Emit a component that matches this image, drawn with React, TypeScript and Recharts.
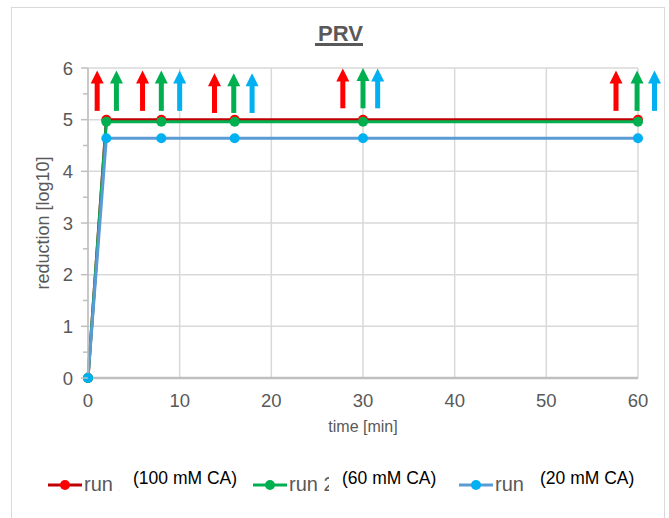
import { CartesianGrid, Line, LineChart, ReferenceLine, XAxis, YAxis } from 'recharts';

const TIME_MIN = [0, 2, 8, 16, 30, 60];
const RUN1 = [0, 5.0, 5.0, 5.0, 5.0, 5.0];
const RUN2 = [0, 4.96, 4.96, 4.96, 4.96, 4.96];
const RUN3 = [0, 4.64, 4.64, 4.64, 4.64, 4.64];

const X_TICKS = [0, 10, 20, 30, 40, 50, 60];
const Y_TICKS = [0, 0.5, 1, 1.5, 2, 2.5, 3, 3.5, 4, 4.5, 5, 5.5, 6];
const Y_GRID = [1, 2, 3, 4, 5, 6];

// sampling arrows: x position, arrow base, arrow tip (log10 units)
const ARROWS_RED = [
  { x: 1.0, from: 5.17, to: 5.95 },
  { x: 5.95, from: 5.17, to: 5.95 },
  { x: 13.8, from: 5.13, to: 5.9 },
  { x: 27.8, from: 5.22, to: 5.99 },
  { x: 57.6, from: 5.17, to: 5.95 },
];
const ARROWS_GREEN = [
  { x: 3.1, from: 5.17, to: 5.95 },
  { x: 8.0, from: 5.17, to: 5.95 },
  { x: 15.9, from: 5.13, to: 5.9 },
  { x: 30.0, from: 5.22, to: 6.0 },
  { x: 59.9, from: 5.17, to: 5.95 },
];
const ARROWS_BLUE = [
  { x: 10.0, from: 5.17, to: 5.95 },
  { x: 17.9, from: 5.13, to: 5.9 },
  { x: 31.6, from: 5.22, to: 5.99 },
  { x: 61.8, from: 5.17, to: 5.95 },
];

const SERIES = [
  { key: 'run1', name: 'run 1', note: '(100 mM CA)', line: '#C00000', dot: '#FF0000' },
  { key: 'run2', name: 'run 2', note: '(60 mM CA)', line: '#00B050', dot: '#00B050' },
  { key: 'run3', name: 'run 3', note: '(20 mM CA)', line: '#5B9BD5', dot: '#00B0F0' },
];

const data = TIME_MIN.map((t, i) => ({ t, run1: RUN1[i], run2: RUN2[i], run3: RUN3[i] }));

const FONT = '"Liberation Sans", Arial, sans-serif';
const GRAY = '#595959';

function YTick(props: any) {
  const { x, y, payload } = props;
  const v = payload.value as number;
  const major = Number.isInteger(v);
  return (
    <g>
      <line x1={x - (major ? 7 : 5)} x2={x} y1={y} y2={y} stroke="#bfbfbf" strokeWidth={1.5} />
      {major && (
        <text x={x - 15} y={y} dy="0.355em" textAnchor="end" fill={GRAY} fontSize={18.5} fontFamily={FONT}>
          {v}
        </text>
      )}
    </g>
  );
}

function Arrow(props: any) {
  const { x1, y1, y2, color } = props;
  const top = Math.min(y1, y2);
  const bottom = Math.max(y1, y2);
  const head = 13;
  return (
    <g>
      <rect x={x1 - 2.5} y={top + head - 1} width={5} height={bottom - top - head + 1} fill={color} />
      <polygon points={`${x1 - 6.5},${top + head} ${x1 + 6.5},${top + head} ${x1},${top}`} fill={color} />
    </g>
  );
}

const arrowGroups = [
  { list: ARROWS_RED, color: '#FF0000' },
  { list: ARROWS_GREEN, color: '#00B050' },
  { list: ARROWS_BLUE, color: '#00B0F0' },
];

// legend layout (pixels in the 669x518 frame)
const LEGEND_X = [48, 253, 459];
const DIGIT_CUT = [120, 329, 528];
const NOTE_X = [133, 342, 540];

export default function App() {
  return (
    <div style={{ position: 'absolute', left: 0, top: 0, width: 669, height: 518, background: '#fff', overflow: 'hidden' }}>
      <LineChart
        width={669}
        height={518}
        data={data}
        margin={{ top: 68, right: 31, left: 28, bottom: 80 }}
        style={{ fontFamily: FONT }}
      >
        <CartesianGrid horizontal={false} stroke="#d9d9d9" strokeWidth={1.5} />
        {Y_GRID.map((v) => (
          <ReferenceLine key={v} y={v} stroke="#d9d9d9" strokeWidth={1.5} />
        ))}
        <XAxis
          dataKey="t"
          type="number"
          domain={[0, 60]}
          ticks={X_TICKS}
          tickLine={false}
          tickSize={0}
          tickMargin={16}
          height={60}
          axisLine={{ stroke: '#bfbfbf', strokeWidth: 2.5 }}
          tick={{ fill: GRAY, fontSize: 18.5, fontFamily: FONT }}
          label={{ value: 'time [min]', position: 'insideBottom', offset: 6, fill: GRAY, fontSize: 16, fontFamily: FONT }}
        />
        <YAxis
          type="number"
          domain={[0, 6]}
          ticks={Y_TICKS}
          interval={0}
          width={60}
          tickLine={false}
          tickSize={0}
          tickMargin={0}
          axisLine={{ stroke: '#bfbfbf', strokeWidth: 1.5 }}
          tick={<YTick />}
          label={{
            value: 'reduction [log10]',
            angle: -90,
            position: 'insideLeft',
            offset: 15,
            fill: GRAY,
            fontSize: 18,
            fontFamily: FONT,
            style: { textAnchor: 'middle' },
          }}
        />
        {SERIES.map((s) => (
          <Line
            key={s.key}
            type="linear"
            dataKey={s.key}
            name={s.name}
            stroke={s.line}
            strokeWidth={3}
            dot={{ r: 5, fill: s.dot, stroke: s.dot, strokeWidth: 0 }}
            isAnimationActive={false}
          />
        ))}
        {arrowGroups.map((g) =>
          g.list.map((a, i) => (
            <ReferenceLine
              key={`${g.color}-${i}`}
              segment={[
                { x: a.x, y: a.from },
                { x: a.x, y: a.to },
              ]}
              ifOverflow="visible"
              stroke={g.color}
              shape={(p: any) => <Arrow {...p} color={g.color} />}
            />
          ))
        )}
      </LineChart>
      <svg
        width={669}
        height={518}
        style={{ position: 'absolute', left: 0, top: 0, pointerEvents: 'none', fontFamily: FONT }}
      >
        <rect x={11.5} y={7.5} width={653} height={530} fill="none" stroke="#d9d9d9" strokeWidth={1} />
        <text x={340.5} y={41} textAnchor="middle" fontSize={22} fontWeight="bold" fill={GRAY}>
          PRV
        </text>
        <rect x={315} y={43} width={48} height={3} fill={GRAY} />
        {SERIES.map((s, i) => (
          <g key={s.key}>
            <line x1={LEGEND_X[i]} x2={LEGEND_X[i] + 34} y1={485} y2={485} stroke={s.line} strokeWidth={3} />
            <circle cx={LEGEND_X[i] + 17} cy={485} r={5} fill={s.dot} />
            <text x={LEGEND_X[i] + 36} y={491} fontSize={20} fill={GRAY}>
              {s.name}
            </text>
            <rect x={DIGIT_CUT[i]} y={464} width={NOTE_X[i] - DIGIT_CUT[i] + 100} height={30} fill="#fff" />
            <text x={NOTE_X[i]} y={484} fontSize={17.5} fill="#000">
              {s.note}
            </text>
          </g>
        ))}
      </svg>
    </div>
  );
}
